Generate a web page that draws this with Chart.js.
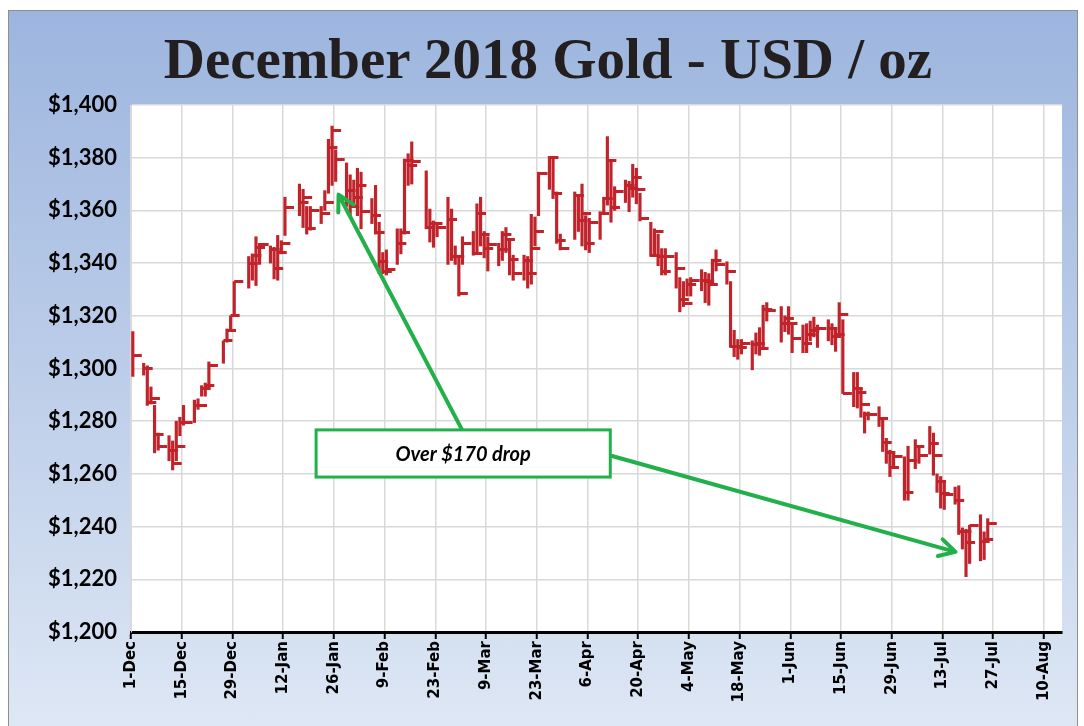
<!DOCTYPE html>
<html>
<head>
<meta charset="utf-8">
<script src="https://cdn.jsdelivr.net/npm/chart.js@4.4.1/dist/chart.umd.min.js"></script>
<style>
  html, body { margin: 0; padding: 0; background: #fff; }
  #frame {
    position: absolute; left: 8px; top: 10px; width: 1068px; height: 730px;
    border: 1px solid #8f8f8f;
    background: linear-gradient(to bottom, #9db5de 0%, #b9cbe8 45%, #dfe8f5 100%);
  }
  #title {
    position: absolute; left: 0; top: 27px; width: 1096px; text-align: center;
    font-family: "Liberation Serif", serif; font-weight: bold; font-size: 57px;
    line-height: 64px; color: #231f20;
  }
  #chart { position: absolute; left: 0; top: 0; }
</style>
</head>
<body>
<div id="frame"></div>
<div id="title">December 2018 Gold - USD / oz</div>
<canvas id="chart" width="1084" height="726"></canvas>
<script>
// December 2018 gold futures, daily high / low / close (USD per oz)
const dates = [
  '2017-12-01','2017-12-04','2017-12-05','2017-12-06','2017-12-07','2017-12-08',
  '2017-12-11','2017-12-12','2017-12-13','2017-12-14','2017-12-15',
  '2017-12-18','2017-12-19','2017-12-20','2017-12-21','2017-12-22',
  '2017-12-26','2017-12-27','2017-12-28','2017-12-29',
  '2018-01-02','2018-01-03','2018-01-04','2018-01-05',
  '2018-01-08','2018-01-09','2018-01-10','2018-01-11','2018-01-12',
  '2018-01-16','2018-01-17','2018-01-18','2018-01-19',
  '2018-01-22','2018-01-23','2018-01-24','2018-01-25','2018-01-26',
  '2018-01-29','2018-01-30','2018-01-31','2018-02-01','2018-02-02',
  '2018-02-05','2018-02-06','2018-02-07','2018-02-08','2018-02-09',
  '2018-02-12','2018-02-13','2018-02-14','2018-02-15','2018-02-16',
  '2018-02-20','2018-02-21','2018-02-22','2018-02-23',
  '2018-02-26','2018-02-27','2018-02-28','2018-03-01','2018-03-02',
  '2018-03-05','2018-03-06','2018-03-07','2018-03-08','2018-03-09',
  '2018-03-12','2018-03-13','2018-03-14','2018-03-15','2018-03-16',
  '2018-03-19','2018-03-20','2018-03-21','2018-03-22','2018-03-23',
  '2018-03-26','2018-03-27','2018-03-28','2018-03-29',
  '2018-04-02','2018-04-03','2018-04-04','2018-04-05','2018-04-06',
  '2018-04-09','2018-04-10','2018-04-11','2018-04-12','2018-04-13',
  '2018-04-16','2018-04-17','2018-04-18','2018-04-19','2018-04-20',
  '2018-04-23','2018-04-24','2018-04-25','2018-04-26','2018-04-27',
  '2018-04-30','2018-05-01','2018-05-02','2018-05-03','2018-05-04',
  '2018-05-07','2018-05-08','2018-05-09','2018-05-10','2018-05-11',
  '2018-05-14','2018-05-15','2018-05-16','2018-05-17','2018-05-18',
  '2018-05-21','2018-05-22','2018-05-23','2018-05-24','2018-05-25',
  '2018-05-29','2018-05-30','2018-05-31','2018-06-01',
  '2018-06-04','2018-06-05','2018-06-06','2018-06-07','2018-06-08',
  '2018-06-11','2018-06-12','2018-06-13','2018-06-14','2018-06-15',
  '2018-06-18','2018-06-19','2018-06-20','2018-06-21','2018-06-22',
  '2018-06-25','2018-06-26','2018-06-27','2018-06-28','2018-06-29',
  '2018-07-02','2018-07-03','2018-07-05','2018-07-06',
  '2018-07-09','2018-07-10','2018-07-11','2018-07-12','2018-07-13',
  '2018-07-16','2018-07-17','2018-07-18','2018-07-19','2018-07-20',
  '2018-07-23','2018-07-24','2018-07-25'
];
const highs = [
  1314, 1302, 1301, 1293, 1286, 1275.5,
  1274.5, 1272.5, 1280, 1281.5, 1286,
  1288, 1288.5, 1293.5, 1294.5, 1302.5,
  1310.5, 1315, 1320, 1333,
  1342.5, 1343.5, 1350, 1347.5,
  1346.5, 1346, 1350.5, 1348.5, 1365,
  1370, 1368, 1361.5, 1361.5,
  1361.5, 1367.5, 1387, 1392, 1383,
  1378, 1373.5, 1371.5, 1376, 1374.5,
  1364.5, 1369.5, 1355.5, 1344, 1345,
  1353, 1353, 1379.5, 1381.5, 1386,
  1375, 1360.5, 1356, 1355.5,
  1365, 1360.5, 1346.5, 1343, 1350,
  1352, 1362.5, 1365, 1352, 1350,
  1347.5, 1352, 1353.5, 1348.5, 1343,
  1343, 1342.5, 1358.5, 1357.5, 1374.5,
  1380.5, 1380.5, 1367, 1351,
  1367, 1365, 1370, 1358, 1357,
  1359.5, 1365, 1388, 1379, 1369,
  1371.5, 1371, 1377.5, 1376, 1366.5,
  1355.5, 1353, 1351, 1345.5, 1345.5,
  1344, 1334.5, 1333, 1334, 1334.5,
  1337.5, 1336.5, 1336, 1341.5, 1345,
  1340.5, 1333, 1314.5, 1311, 1311,
  1310.5, 1313.5, 1315.5, 1324, 1325,
  1323.5, 1320, 1323.5, 1317,
  1316.5, 1317, 1318, 1319.5, 1316.5,
  1318.5, 1317, 1315.5, 1325, 1318.5,
  1298.5, 1298.5, 1292.5, 1283.5, 1283.5,
  1285.5, 1281, 1273.5, 1269, 1268,
  1266.5, 1270.5, 1273, 1270.5,
  1278, 1275.5, 1260, 1259, 1257.5,
  1255, 1255.5, 1239.5, 1239, 1240.5,
  1244.5, 1238, 1243
];
const lows = [
  1297, 1297.5, 1286, 1286.5, 1268, 1269,
  1265, 1261.5, 1265, 1274.5, 1278.5,
  1279.5, 1284.5, 1289.5, 1289.5, 1293,
  1302, 1310, 1314.5, 1320,
  1330.5, 1333.5, 1331.5, 1339.5,
  1340, 1334, 1333.5, 1343.5, 1350.5,
  1358, 1353.5, 1351, 1352.5,
  1355, 1360, 1366.5, 1369.5, 1371,
  1361.5, 1358, 1361.5, 1358, 1353,
  1355, 1351, 1336, 1336, 1335.5,
  1339.5, 1343.5, 1351, 1369.5, 1370,
  1353, 1348, 1346, 1350,
  1339.5, 1341, 1339.5, 1327.5, 1339.5,
  1343, 1343.5, 1346.5, 1342, 1337,
  1339, 1341, 1344, 1335.5, 1333.5,
  1333.5, 1330.5, 1332, 1346.5, 1358,
  1368, 1364.5, 1347.5, 1345,
  1349, 1352, 1346.5, 1345, 1344,
  1349, 1359, 1362, 1355.5, 1360,
  1363, 1359.5, 1365, 1362.5, 1356,
  1342.5, 1343, 1339, 1335.5, 1335.5,
  1330.5, 1321.5, 1323.5, 1327.5, 1327.5,
  1329.5, 1325, 1324, 1333, 1337,
  1332, 1308, 1304.5, 1303.5, 1305.5,
  1299.5, 1305.5, 1305, 1308, 1318,
  1310, 1314, 1313, 1306,
  1306, 1306, 1310.5, 1312, 1308,
  1310.5, 1309, 1306.5, 1312.5, 1290.5,
  1285.5, 1285, 1281.5, 1275.5, 1280.5,
  1278, 1268.5, 1264, 1259, 1262,
  1250, 1250, 1262, 1264,
  1267.5, 1259.5, 1253, 1247, 1246.5,
  1248.5, 1237, 1231.5, 1221, 1226,
  1227, 1227.5, 1234
];
const closes = [
  1305, 1300, 1287, 1288.5, 1275, 1270.5,
  1269, 1264, 1270.5, 1279.5, 1279.5,
  1286, 1286, 1292.5, 1293.5, 1301,
  1310.5, 1314.5, 1320, 1333,
  1340, 1343, 1346, 1347,
  1345, 1338, 1344, 1347.5, 1361,
  1363, 1365, 1353, 1360,
  1359, 1363, 1384, 1390.5, 1379.5,
  1367.5, 1361.5, 1365, 1369.5, 1359.5,
  1358, 1351.5, 1340.5, 1337, 1337.5,
  1347.5, 1351.5, 1379, 1377, 1378.5,
  1353.5, 1355, 1355, 1353.5,
  1356.5, 1342.5, 1342.5, 1328.5, 1347.5,
  1343.5, 1359, 1351, 1345.5, 1347,
  1345, 1351, 1349, 1341.5, 1336,
  1341, 1336, 1345.5, 1352, 1374,
  1380, 1366.5, 1348.5, 1345.5,
  1365.5, 1356, 1359, 1347.5, 1355.5,
  1359, 1364.5, 1379, 1361, 1367,
  1369.5, 1368.5, 1372.5, 1368, 1357,
  1343, 1352, 1342.5, 1337, 1342.5,
  1338, 1326, 1324.5, 1332, 1333.5,
  1333.5, 1333, 1332, 1341, 1339.5,
  1337, 1308.5, 1308.5, 1308, 1309.5,
  1309, 1309.5, 1307.5, 1322.5, 1322,
  1317, 1319, 1317, 1311.5,
  1309.5, 1313, 1314.5, 1315, 1315,
  1315, 1312, 1313, 1320.5, 1290.5,
  1292.5, 1291, 1286.5, 1282.5, 1282.5,
  1281, 1272, 1268, 1262.5, 1266.5,
  1253, 1265, 1270.5, 1267,
  1271.5, 1267, 1257, 1252.5, 1252,
  1250, 1238, 1238, 1234, 1240.5,
  1234.5, 1235, 1241
];
const tickLabels = ['1-Dec', '15-Dec', '29-Dec', '12-Jan', '26-Jan', '9-Feb', '23-Feb',
  '9-Mar', '23-Mar', '6-Apr', '20-Apr', '4-May', '18-May', '1-Jun', '15-Jun',
  '29-Jun', '13-Jul', '27-Jul', '10-Aug'];

const RED = '#c1232b';
const GREEN = '#22b04b';
const START = Date.UTC(2017, 11, 1);

// days since 1-Dec, centred in the day slot
function dayOf(s) {
    const p = s.split('-');
    return (Date.UTC(+p[0], +p[1] - 1, +p[2]) - START) / 86400000 + 0.5;
}

// close tick: drawn only to the right of the point
const tickImg = document.createElement('canvas');
tickImg.width = 20;
tickImg.height = 3;
const tctx = tickImg.getContext('2d');
tctx.fillStyle = RED;
tctx.fillRect(10, 0, 9, 3);

const whitePlot = {
    id: 'whitePlot',
    beforeDraw(chart) {
        const a = chart.chartArea, c = chart.ctx;
        c.save();
        c.fillStyle = '#fff';
        c.fillRect(a.left, a.top, a.right - a.left, a.bottom - a.top);
        c.restore();
    }
};

function arrow(c, x1, y1, x2, y2) {
    const ang = Math.atan2(y2 - y1, x2 - x1);
    c.beginPath();
    c.moveTo(x1, y1);
    c.lineTo(x2 - 3 * Math.cos(ang), y2 - 3 * Math.sin(ang));
    c.stroke();
    const len = 18, spread = 0.5;
    c.beginPath();
    c.moveTo(x2 - len * Math.cos(ang - spread), y2 - len * Math.sin(ang - spread));
    c.lineTo(x2, y2);
    c.lineTo(x2 - len * Math.cos(ang + spread), y2 - len * Math.sin(ang + spread));
    c.stroke();
}

const callout = {
    id: 'callout',
    afterDatasetsDraw(chart) {
        const x = chart.scales.x, y = chart.scales.y, c = chart.ctx;
        c.save();
        c.strokeStyle = GREEN;
        c.lineWidth = 4;
        c.lineCap = 'round';
        c.lineJoin = 'round';
        arrow(c, x.getPixelForValue(91.4), y.getPixelForValue(1276.7),
                 x.getPixelForValue(57.3), y.getPixelForValue(1366));
        arrow(c, x.getPixelForValue(132.8), y.getPixelForValue(1266.8),
                 x.getPixelForValue(227.6), y.getPixelForValue(1230.4));
        const l = x.getPixelForValue(51.1), r = x.getPixelForValue(132.3);
        const t = y.getPixelForValue(1276.7), b = y.getPixelForValue(1258.8);
        c.fillStyle = '#fff';
        c.fillRect(l, t, r - l, b - t);
        c.lineWidth = 3;
        c.lineCap = 'butt';
        c.lineJoin = 'miter';
        c.strokeRect(l, t, r - l, b - t);
        c.fillStyle = '#000';
        c.font = 'italic bold 20px Lato';
        c.textAlign = 'center';
        c.textBaseline = 'middle';
        c.fillText('Over $170 drop', (l + r) / 2, (t + b) / 2 + 1);
        c.restore();
    }
};

new Chart(document.getElementById('chart'), {
    type: 'bar',
    data: {
        datasets: [{
            type: 'bar',
            data: dates.map((d, i) => ({ x: dayOf(d), y: [lows[i], highs[i]] })),
            backgroundColor: RED,
            borderWidth: 0,
            barThickness: 2.5,
            grouped: false
        }, {
            type: 'scatter',
            data: dates.map((d, i) => ({ x: dayOf(d), y: closes[i] })),
            pointStyle: tickImg,
            pointRadius: 5,
            showLine: false
        }]
    },
    options: {
        responsive: false,
        animation: false,
        events: [],
        layout: { padding: { top: 105, right: 22, left: 0, bottom: 0 } },
        plugins: {
            legend: { display: false },
            tooltip: { enabled: false }
        },
        scales: {
            x: {
                type: 'linear',
                min: 0,
                max: 257,
                offset: false,
                grid: { color: '#d9d9d9', lineWidth: 1.5, offset: false, tickColor: '#000', tickLength: 7, tickWidth: 2 },
                border: { color: '#000', width: 3 },
                ticks: {
                    stepSize: 14,
                    includeBounds: false,
                    autoSkip: false,
                    minRotation: 90,
                    maxRotation: 90,
                    padding: 2,
                    color: '#000',
                    font: { family: 'DejaVu Sans', weight: 'bold', size: 15 },
                    callback: v => tickLabels[v / 14]
                },
                afterFit: s => { s.height = 94; }
            },
            y: {
                min: 1200,
                max: 1400,
                grid: { color: '#d9d9d9', lineWidth: 1.5, drawTicks: false },
                border: { color: '#d9d9d9' },
                ticks: {
                    stepSize: 20,
                    padding: 14,
                    color: '#000',
                    font: { family: 'Lato', weight: 'bold', size: 22 },
                    callback: v => '$' + v.toLocaleString('en-US')
                },
                afterFit: s => { s.width = 131; }
            }
        }
    },
    plugins: [whitePlot, callout]
});
</script>
</body>
</html>
